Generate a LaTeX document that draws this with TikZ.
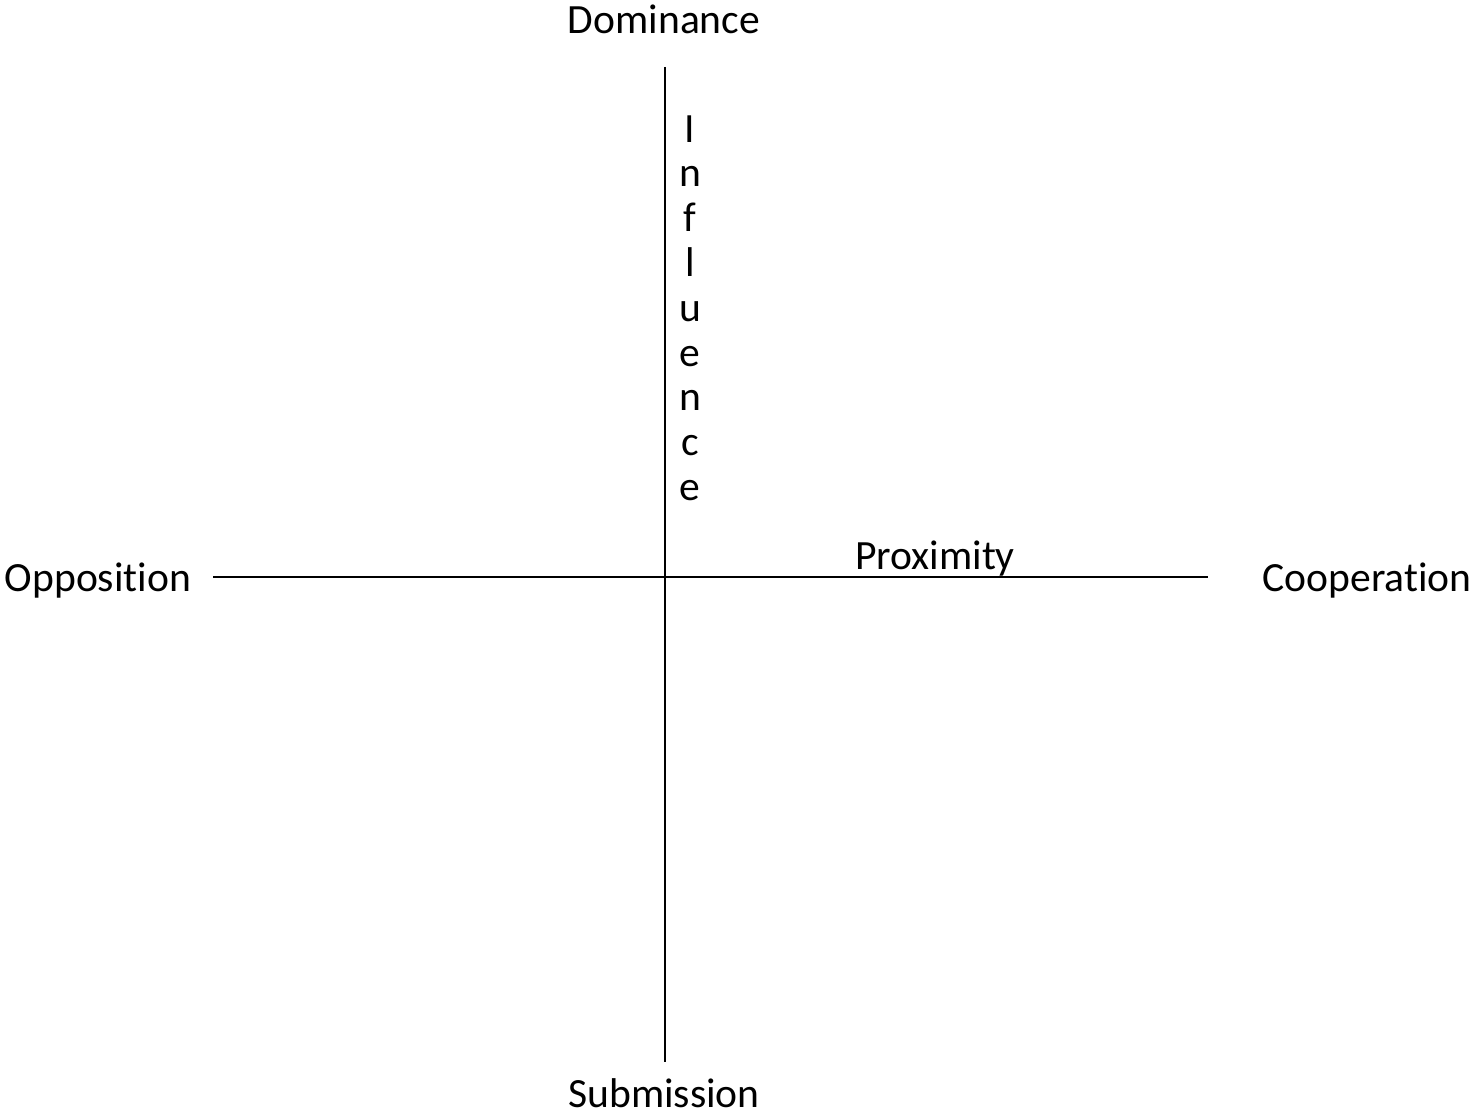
\documentclass[tikz,border=0pt]{standalone}
\usepackage{fontspec}
\setmainfont[Ligatures=NoCommon]{Carlito}
\begin{document}
\begin{tikzpicture}[x=0.5pt,y=-0.5pt,
  lbl/.style={inner sep=0pt,font=\fontsize{20.8}{24}\selectfont},
  axis/.style={draw=black,line width=0.8pt}]
\useasboundingbox (0,0) rectangle (1477,1117);
\coordinate (top) at (665,67);
\coordinate (bot) at (665,1062);
\coordinate (left) at (213,577);
\coordinate (right) at (1208,577);
\draw[axis] (top) -- (bot);
\draw[axis] (left) -- (right);
\node[lbl,anchor=base] (dom) at (664,34) {Dominance};
\node[lbl,anchor=base] (sub) at (664,1107) {Submission};
\node[lbl,anchor=base] (opp) at (98,591) {Opposition};
\node[lbl,anchor=base] (coop) at (1367,591) {Cooperation};
\node[lbl,anchor=base] (prox) at (935,569) {Proximity};
\node[lbl,anchor=north,align=center,font=\fontsize{20.8}{22.4}\selectfont] (infl) at (690,115)
  {I\\n\\f\\l\\u\\e\\n\\c\\e};
\end{tikzpicture}
\end{document}
